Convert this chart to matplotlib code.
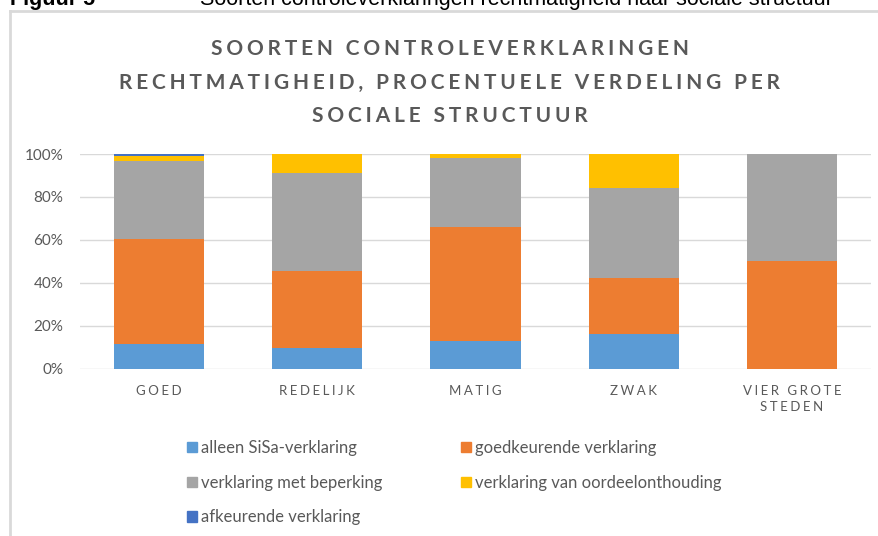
import matplotlib
matplotlib.use("Agg")
import matplotlib.pyplot as plt
import numpy as np
from matplotlib.patches import Patch
from matplotlib.lines import Line2D

categories = ["GOED", "REDELIJK", "MATIG", "ZWAK", "VIER GROTE\nSTEDEN"]
series_names = ["alleen SiSa-verklaring", "goedkeurende verklaring",
                "verklaring met beperking", "verklaring van oordeelonthouding",
                "afkeurende verklaring"]
sisa = [11.5, 9.6, 12.7, 16.3, 0.0]
goedkeurend = [48.9, 36.1, 53.3, 25.9, 50.0]
beperking = [36.3, 45.4, 32.1, 41.8, 50.0]
oordeel = [2.5, 8.9, 1.9, 16.0, 0.0]
afkeurend = [0.8, 0.0, 0.0, 0.0, 0.0]
yticks = [0, 20, 40, 60, 80, 100]
title = "SOORTEN CONTROLEVERKLARINGEN\nRECHTMATIGHEID, PROCENTUELE VERDELING PER\nSOCIALE STRUCTUUR"
caption_label = "Figuur 5"
caption_text = "Soorten controleverklaringen rechtmatigheid naar sociale structuur"

colors = ["#5B9BD5", "#ED7D31", "#A5A5A5", "#FFC000", "#4472C4"]
TXT = "#595959"
FAM = ["Lato", "DejaVu Sans"]
plt.rcParams['font.family'] = FAM

def spaced(s, sp="\u2009"):
    lines = []
    for line in s.split("\n"):
        words = line.split(" ")
        lines.append((sp + " " + sp).join(sp.join(w) for w in words))
    return "\n".join(lines)

W, H = 879, 536
fig = plt.figure(figsize=(W / 100, H / 100), dpi=100)
ax = fig.add_axes([80 / W, (H - 368.7) / H, 791 / W, 214.7 / H])

x = np.arange(len(categories))
series = [sisa, goedkeurend, beperking, oordeel, afkeurend]
bottom = np.zeros(len(categories))
handles = []
for name, vals, c in zip(series_names, series, colors):
    v = np.array(vals)
    ax.bar(x, v, bottom=bottom, width=0.57, color=c, zorder=3)
    bottom += v
    handles.append(Patch(facecolor=c, edgecolor=c, label=name))

ax.set_xlim(-0.5, len(categories) - 0.5)
ax.set_ylim(0, 100)
ax.set_yticks(yticks)
ax.set_yticklabels([f"{t}%" for t in yticks], color=TXT, fontsize=11)
ax.set_xticks(x)
ax.set_xticklabels([spaced(c, "\u2009\u200a") for c in categories], color=TXT,
                   fontsize=9.5, linespacing=1.4)
ax.tick_params(axis='both', length=0)
ax.tick_params(axis='y', pad=12)
ax.tick_params(axis='x', pad=12)
ax.grid(axis='y', color="#D9D9D9", linewidth=1, zorder=0)
for s in ax.spines.values():
    s.set_visible(False)

fig.text(450 / W, 1 - 39 / H, spaced(title, "\u2009\u200a"), ha='center', va='top',
         fontsize=15, fontweight='bold', color=TXT, linespacing=1.85)

order = [0, 2, 4, 1, 3]
fig.legend([handles[i] for i in order], [series_names[i] for i in order],
           ncol=2, loc='upper left', bbox_to_anchor=(187 / W, 1 - 440 / H),
           frameon=False, fontsize=12, labelcolor=TXT,
           handlelength=0.6, handleheight=0.6, handletextpad=0.24,
           columnspacing=4.7, labelspacing=1.12, borderpad=0, borderaxespad=0)

# frame
fig.add_artist(Line2D([10 / W, 10 / W], [0, 1 - 11 / H], color="#D9D9D9", lw=2))
fig.add_artist(Line2D([10 / W, 1], [1 - 11 / H, 1 - 11 / H], color="#D9D9D9", lw=2))

# cut-off caption at the top (as in the source)
fig.text(10 / W, 1 - 5 / H, caption_label, ha='left', va='baseline',
         fontsize=15.5, fontweight='bold', family=["Liberation Sans", "DejaVu Sans"], color="black")
fig.text(200 / W, 1 - 5 / H, caption_text, ha='left', va='baseline',
         fontsize=15.5, family=["Liberation Sans", "DejaVu Sans"], color="black")

fig.savefig("out.png", dpi=100)
